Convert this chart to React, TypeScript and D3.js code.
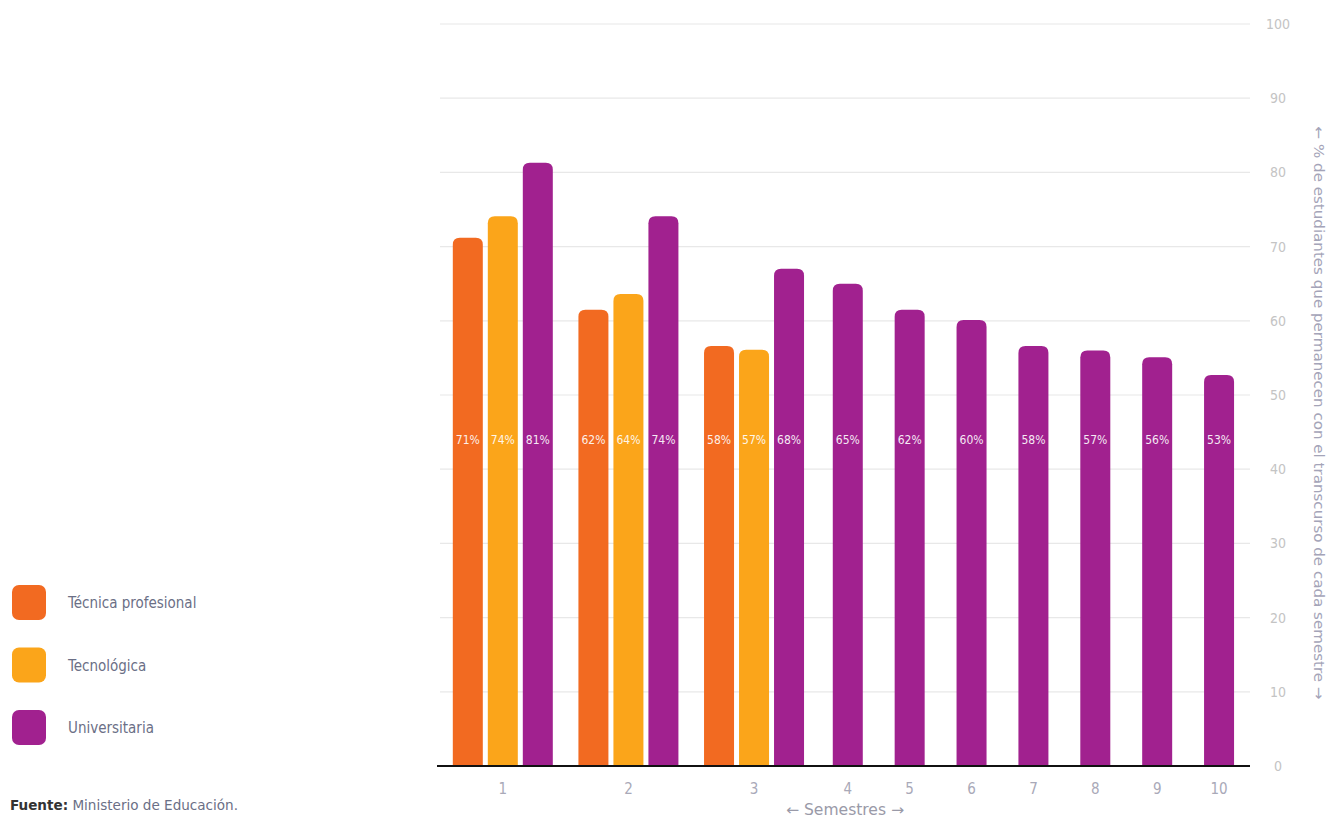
import React from "react";
import * as d3 from "d3";

const semesters = ["1", "2", "3", "4", "5", "6", "7", "8", "9", "10"];
const seriesNames = ["Técnica profesional", "Tecnológica", "Universitaria"];
const seriesColors = ["#f26a21", "#fba51a", "#a1218f"];
// bar heights (%), null = no bar
const tecnicaValues = [71.2, 61.5, 56.6, null, null, null, null, null, null, null];
const tecnologicaValues = [74.1, 63.6, 56.1, null, null, null, null, null, null, null];
const universitariaValues = [81.3, 74.1, 67.0, 65.0, 61.5, 60.1, 56.6, 56.0, 55.1, 52.7];
// printed labels
const tecnicaLabels = ["71%", "62%", "58%", "", "", "", "", "", "", ""];
const tecnologicaLabels = ["74%", "64%", "57%", "", "", "", "", "", "", ""];
const universitariaLabels = ["81%", "74%", "68%", "65%", "62%", "60%", "58%", "57%", "56%", "53%"];
const yTicks = [0, 10, 20, 30, 40, 50, 60, 70, 80, 90, 100];

const W = 1332;
const H = 820;
const plotLeft = 440;
const plotRight = 1250;
const yBase = 766;
const yTop = 24;
const barW = 30;
const barStep = 35;
const FONT = "'DejaVu Sans Condensed', 'Liberation Sans Narrow', Roboto, sans-serif";

function topRoundedRect(x: number, y: number, w: number, h: number, r: number) {
  const rr = Math.min(r, w / 2, h);
  return `M${x},${y + h}V${y + rr}Q${x},${y} ${x + rr},${y}H${x + w - rr}Q${x + w},${y} ${x + w},${y + rr}V${y + h}Z`;
}

export default function App() {
  const allValues = [tecnicaValues, tecnologicaValues, universitariaValues];
  const allLabels = [tecnicaLabels, tecnologicaLabels, universitariaLabels];

  // weight of each group = 2 if multi-bar, 1 otherwise
  const weights = semesters.map((_, i) => (allValues.filter((s) => s[i] != null).length > 1 ? 2.03 : 1));
  const cum: number[] = [];
  let acc = 0;
  weights.forEach((w) => {
    cum.push(acc + w / 2);
    acc += w;
  });
  const x = d3.scaleLinear().domain([0, acc]).range([plotLeft, plotRight]);
  const y = d3.scaleLinear().domain([0, 100]).range([yBase, yTop]);

  const bars: { x: number; v: number; label: string; color: string; key: string }[] = [];
  semesters.forEach((s, i) => {
    const present = allValues.map((arr, k) => ({ k, v: arr[i] })).filter((d) => d.v != null);
    const n = present.length;
    present.forEach((d, j) => {
      const cx = x(cum[i]) + (j - (n - 1) / 2) * barStep;
      bars.push({ x: cx, v: d.v as number, label: allLabels[d.k][i], color: seriesColors[d.k], key: `${s}-${d.k}` });
    });
  });

  return (
    <svg width={W} height={H} style={{ position: "absolute", left: 0, top: 0, background: "#fff" }} fontFamily={FONT}>
      {yTicks.filter((t) => t > 0).map((t) => (
        <line key={"g" + t} x1={plotLeft} x2={plotRight} y1={y(t)} y2={y(t)} stroke="#e8e8e8" strokeWidth={1.2} />
      ))}
      {yTicks.map((t) => (
        <text key={"t" + t} x={1278} y={y(t) + 5} textAnchor="middle" fontSize={14} fill="#c4c4c4">
          {t}
        </text>
      ))}
      {bars.map((b) => (
        <path key={b.key} d={topRoundedRect(b.x - barW / 2, y(b.v), barW, yBase - y(b.v), 7)} fill={b.color} />
      ))}
      {bars.map((b) => (
        <text key={"l" + b.key} x={b.x} y={444} textAnchor="middle" fontSize={12} fill="#fff" opacity={0.9}>
          {b.label}
        </text>
      ))}
      <line x1={437} x2={plotRight} y1={yBase} y2={yBase} stroke="#111" strokeWidth={2} />
      {semesters.map((s, i) => (
        <text key={"x" + s} x={x(cum[i])} y={794} textAnchor="middle" fontSize={15} fill="#a9a9b8">
          {s}
        </text>
      ))}
      <text x={845} y={815} textAnchor="middle" fontSize={15} fill="#9a9aa8" textLength={118} lengthAdjust="spacingAndGlyphs">
        ← Semestres →
      </text>
      <text
        transform={`translate(1314,413) rotate(90)`}
        textAnchor="middle"
        fontSize={14.5}
        fill="#a4a4b8"
        textLength={573}
        lengthAdjust="spacingAndGlyphs"
      >
        ← % de estudiantes que permanecen con el transcurso de cada semestre →
      </text>
      {seriesNames.map((name, k) => (
        <g key={name} transform={`translate(12,${585 + k * 62.5})`}>
          <rect width={34} height={35} rx={7} fill={seriesColors[k]} />
          <text x={56} y={23} fontSize={15} fill="#6b6f86">
            {name}
          </text>
        </g>
      ))}
      <text x={10} y={810} fontSize={14} fill="#6b6f86" textLength={228} lengthAdjust="spacingAndGlyphs">
        <tspan fontWeight="bold" fill="#333">Fuente:</tspan> Ministerio de Educación.
      </text>
    </svg>
  );
}
